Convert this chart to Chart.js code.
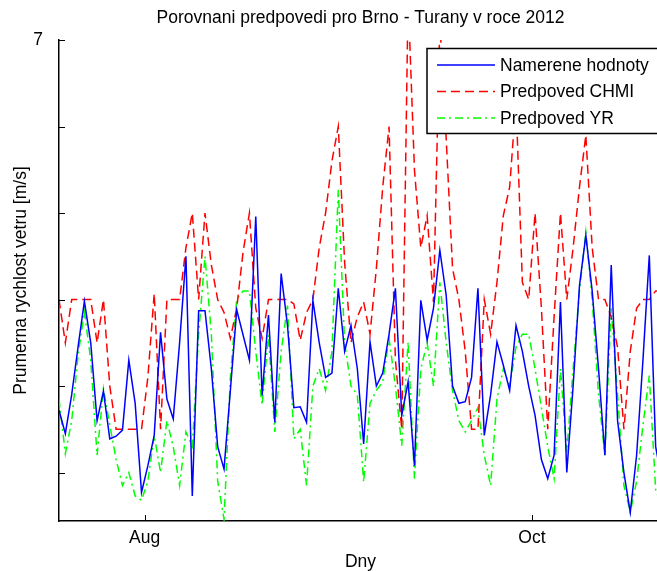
<!DOCTYPE html>
<html>
<head>
<meta charset="utf-8">
<script src="https://cdn.jsdelivr.net/npm/chart.js@4.4.1/dist/chart.umd.min.js"></script>
<style>
  html, body { margin: 0; padding: 0; background: #fff; overflow: hidden; width: 657px; height: 571px; }
  #wrap { position: relative; width: 700px; height: 571px; }
</style>
</head>
<body>
<div id="wrap"><canvas id="c" width="700" height="571"></canvas></div>
<script>
// Daily mean wind speed at Brno - Turany, summer/autumn 2012 [m/s]
const firstDay = 200.5;               // day of year of the first daily value
const measured = [
  2.72, 2.45, 2.9, 3.45, 3.98, 3.5, 2.6, 2.94, 2.39, 2.42,
  2.49, 3.3, 2.8, 1.77, 2.08, 2.43, 3.62, 2.85, 2.62, 3.5,
  4.5, 1.73, 3.87, 3.87, 3.2, 2.3, 2.04, 2.95, 3.88, 3.59,
  3.3, 4.96, 2.89, 3.82, 2.58, 4.3, 3.7, 2.75, 2.76, 2.58,
  3.99, 3.5, 3.1, 3.15, 4.13, 3.4, 3.7, 3.2, 2.33, 3.51,
  3.0, 3.15, 3.6, 4.13, 2.66, 3.05, 2.08, 3.99, 3.53, 3.9,
  4.57, 4.05, 3.0, 2.8, 2.82, 3.1, 4.13, 2.43, 2.9, 3.51,
  3.24, 2.95, 3.7, 3.4, 3.0, 2.66, 2.15, 1.93, 2.2, 3.97,
  2.0, 3.0, 4.16, 4.74, 4.1, 3.2, 2.2, 4.4, 2.6, 2.0,
  1.54, 2.2, 3.3, 4.51, 2.3, 1.9
];
const forecastCHMI = [
  4.0, 3.5, 4.0, 4.0, 4.0, 4.0, 3.5, 4.0, 3.0, 2.5,
  2.5, 2.5, 2.5, 2.5, 3.1, 4.07, 2.5, 4.0, 4.0, 4.0,
  4.6, 5.0, 4.0, 5.0, 4.4, 4.0, 3.85, 3.55, 3.9, 4.55,
  5.0, 3.9, 3.55, 4.0, 4.0, 4.0, 4.0, 3.95, 3.53, 3.85,
  4.0, 4.6, 5.0, 5.6, 6.0, 4.43, 3.5, 3.8, 3.97, 3.6,
  4.36, 5.3, 6.0, 3.3, 2.5, 7.5, 5.5, 4.6, 4.97, 3.97,
  7.2, 5.86, 4.36, 4.0, 3.4, 2.5, 2.5, 4.0, 3.6, 4.2,
  4.97, 5.3, 6.3, 4.2, 4.0, 5.0, 3.9, 2.5, 3.8, 5.0,
  4.0, 4.6, 5.3, 5.9, 4.6, 4.0, 4.0, 3.8, 3.45, 2.5,
  3.4, 3.9, 4.0, 4.0, 4.1, 4.1
];
const forecastYR = [
  2.85, 2.22, 2.6, 3.35, 3.86, 3.3, 2.2, 2.97, 2.55, 2.15,
  1.85, 2.0, 1.73, 1.68, 1.9, 2.43, 2.0, 2.6, 2.3, 1.85,
  2.47, 2.3, 3.6, 4.5, 3.6, 1.9, 1.46, 3.1, 4.0, 4.1,
  4.1, 3.4, 2.78, 3.59, 2.47, 3.4, 3.93, 2.39, 2.5, 1.85,
  3.0, 3.2, 2.95, 3.4, 5.27, 3.5, 3.0, 2.9, 1.89, 2.8,
  2.95, 3.05, 3.55, 3.0, 2.31, 3.51, 1.93, 3.2, 3.5, 3.0,
  4.2, 3.5, 2.95, 2.6, 2.47, 2.6, 2.75, 2.2, 1.85, 2.85,
  3.2, 3.0, 3.45, 3.6, 3.6, 3.2, 2.75, 2.3, 1.93, 3.2,
  2.24, 3.2, 4.1, 4.78, 4.0, 2.9, 2.2, 3.9, 2.9, 1.85,
  1.54, 1.9, 2.55, 3.12, 1.8, 1.6
];
const monthTickDays = [214, 275];      // 1 Aug and 1 Oct 2012
const monthTickLabels = ['Aug', 'Oct'];
const yTickValues = [2, 3, 4, 5, 6, 7];
const yTickLabels = ['', '', '', '', '', '7'];
const seriesNames = ['Namerene hodnoty', 'Predpoved CHMI', 'Predpoved YR'];
const chartTitle = 'Porovnani predpovedi pro Brno - Turany v roce 2012';
const xTitle = 'Dny';
const yTitle = 'Prumerna rychlost vetru [m/s]';

const FONT = '"Liberation Sans", Arial, Helvetica, sans-serif';
const FONT_SIZE = 17.5;
const TICK_LEN = 6;

const toPoints = vals => vals.map((v, i) => ({ x: firstDay + i, y: v }));

const lineStyle = { pointRadius: 0, tension: 0, borderWidth: 1.5, fill: false };

// Title, inward tick marks and the boxed legend, drawn on top of the lines
const decorations = {
  id: 'decorations',
  afterDraw(chart) {
    const { ctx, chartArea: a, scales: { x, y } } = chart;
    ctx.save();

    // title centred over the axes
    ctx.fillStyle = '#000';
    ctx.font = FONT_SIZE + 'px ' + FONT;
    ctx.textAlign = 'center';
    ctx.textBaseline = 'middle';
    ctx.fillText(chartTitle, (a.left + a.right) / 2, 18);

    // tick marks pointing into the plot
    ctx.strokeStyle = '#000';
    ctx.lineWidth = 1;
    ctx.beginPath();
    for (const t of x.ticks) {
      const px = Math.round(x.getPixelForValue(t.value)) + 0.5;
      ctx.moveTo(px, a.bottom);
      ctx.lineTo(px, a.bottom - TICK_LEN);
    }
    for (const t of y.ticks) {
      const py = Math.round(y.getPixelForValue(t.value)) + 0.5;
      ctx.moveTo(a.left, py);
      ctx.lineTo(a.left + TICK_LEN, py);
    }
    ctx.stroke();

    // legend box
    const bx = a.left + 368, by = a.top + 8.5, bw = 240, bh = 85;
    ctx.fillStyle = '#fff';
    ctx.fillRect(bx, by, bw, bh);
    ctx.strokeStyle = '#000';
    ctx.lineWidth = 1.5;
    ctx.strokeRect(bx, by, bw, bh);
    const rowH = 26.5;
    chart.data.datasets.forEach((ds, i) => {
      const ry = by + 16.5 + i * rowH;
      ctx.save();
      ctx.strokeStyle = ds.borderColor;
      ctx.lineWidth = ds.borderWidth;
      ctx.setLineDash(ds.borderDash || []);
      ctx.beginPath();
      ctx.moveTo(bx + 10, ry);
      ctx.lineTo(bx + 68, ry);
      ctx.stroke();
      ctx.restore();
      ctx.fillStyle = '#000';
      ctx.textAlign = 'left';
      ctx.textBaseline = 'middle';
      ctx.fillText(ds.label, bx + 73, ry + 1);
    });
    ctx.restore();
  }
};

new Chart(document.getElementById('c'), {
  type: 'line',
  data: {
    datasets: [
      { ...lineStyle, label: seriesNames[0], data: toPoints(measured), borderColor: '#0000ff' },
      { ...lineStyle, label: seriesNames[1], data: toPoints(forecastCHMI), borderColor: '#ff0000', borderDash: [9, 5] },
      { ...lineStyle, label: seriesNames[2], data: toPoints(forecastYR), borderColor: '#00ff00', borderDash: [8, 4, 2, 4] }
    ]
  },
  options: {
    responsive: false,
    animation: false,
    devicePixelRatio: 1,
    layout: { padding: { left: 0, right: 38, top: 40, bottom: 0 } },
    plugins: { legend: { display: false }, title: { display: false }, tooltip: { enabled: false } },
    scales: {
      x: {
        type: 'linear',
        min: firstDay,
        max: firstDay + measured.length - 1,
        grid: { display: false, drawTicks: false },
        border: { display: true, color: '#000', width: 1.5 },
        afterBuildTicks: s => { s.ticks = monthTickDays.map(v => ({ value: v })); },
        ticks: {
          autoSkip: false, maxRotation: 0, padding: 7, color: '#000',
          font: { family: FONT, size: FONT_SIZE },
          callback: (v, i) => monthTickLabels[i]
        },
        title: { display: true, text: xTitle, color: '#000', font: { family: FONT, size: FONT_SIZE }, padding: { top: 0, bottom: -2 } },
        afterFit: s => { s.height = 50; }
      },
      y: {
        type: 'linear',
        min: 1.44,
        max: 7,
        grid: { display: false, drawTicks: false },
        border: { display: true, color: '#000', width: 1.5 },
        afterBuildTicks: s => { s.ticks = yTickValues.map(v => ({ value: v })); },
        ticks: {
          autoSkip: false, padding: 16, color: '#000',
          font: { family: FONT, size: FONT_SIZE },
          callback: (v, i) => yTickLabels[i]
        },
        title: { display: true, text: yTitle, color: '#000', font: { family: FONT, size: FONT_SIZE }, padding: { top: 11, bottom: 0 } },
        afterFit: s => { s.width = 59; }
      }
    }
  },
  plugins: [decorations]
});
</script>
</body>
</html>
